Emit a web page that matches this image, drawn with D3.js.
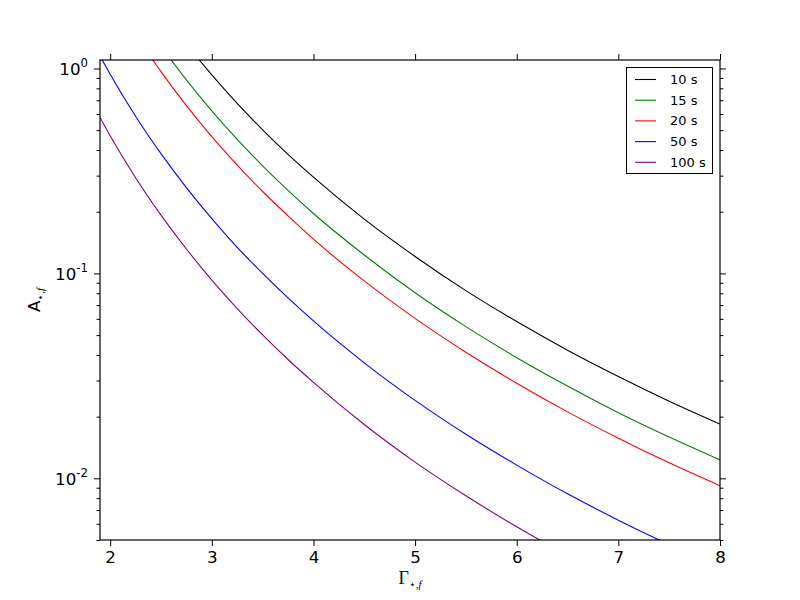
<!DOCTYPE html>
<html>
<head>
<meta charset="utf-8">
<script src="https://cdn.jsdelivr.net/npm/d3@7/dist/d3.min.js"></script>
<style>
  html, body { margin: 0; padding: 0; background: #fff; }
  svg { display: block; }
</style>
</head>
<body>
<svg id="chart" width="800" height="600"></svg>
<script>
// Data
const gamma   = [1.9, 2, 2.25, 2.5, 2.75, 3, 3.25, 3.5, 3.75, 4, 4.5, 5, 5.5, 6, 6.5, 7, 7.5, 8];
const amp10s  = [5.79, 4.71, 2.94, 1.93, 1.318, 0.931, 0.676, 0.502, 0.381, 0.295, 0.184, 0.121, 0.0824, 0.0582, 0.0422, 0.0314, 0.0238, 0.0184];
const amp15s  = [3.86, 3.14, 1.963, 1.288, 0.880, 0.621, 0.451, 0.335, 0.254, 0.196, 0.123, 0.0805, 0.0550, 0.0388, 0.0282, 0.0209, 0.0159, 0.0123];
const amp20s  = [2.89, 2.36, 1.471, 0.965, 0.659, 0.465, 0.338, 0.251, 0.191, 0.147, 0.0919, 0.0603, 0.0412, 0.0291, 0.0211, 0.0157, 0.0119, 0.0092];
const amp50s  = [1.151, 0.938, 0.585, 0.384, 0.262, 0.185, 0.134, 0.100, 0.0759, 0.0586, 0.0366, 0.0240, 0.0164, 0.0116, 0.0084, 0.00625, 0.00474, 0.00366];
const amp100s = [0.577, 0.470, 0.293, 0.1925, 0.1315, 0.0928, 0.0674, 0.0501, 0.0380, 0.0294, 0.0183, 0.0120, 0.00822, 0.00580, 0.00421, 0.00313, 0.00238, 0.00184];
const seriesLabels = ["10 s", "15 s", "20 s", "50 s", "100 s"];
const seriesColors = ["#000000", "#008000", "#ff0000", "#0000ff", "#800080"];
const xTicks = [2, 3, 4, 5, 6, 7, 8];
const yMajorExp = [0, -1, -2];
const xDomain = [1.9, 8];
const yDomain = [0.005, 1.1];

const seriesValues = [amp10s, amp15s, amp20s, amp50s, amp100s];

const svg = d3.select("#chart");
const L = 100, R = 720, T = 60, B = 540;

const x = d3.scaleLinear().domain(xDomain).range([L, R]);
const y = d3.scaleLog().domain(yDomain).range([B, T]);

svg.append("defs").append("clipPath").attr("id", "clip")
  .append("rect").attr("x", L).attr("y", T).attr("width", R - L).attr("height", B - T);

// Lines
const line = d3.line()
  .x(d => x(d[0]))
  .y(d => y(d[1]))
  .curve(d3.curveMonotoneX);

const plot = svg.append("g").attr("clip-path", "url(#clip)");
seriesValues.forEach((vals, i) => {
  plot.append("path")
    .datum(gamma.map((g, j) => [g, vals[j]]))
    .attr("fill", "none")
    .attr("stroke", seriesColors[i])
    .attr("stroke-width", 1.1)
    .attr("d", line);
});

// Axes (ticks outward)
const majorLen = 6, minorLen = 3.5;
const axBottom = d3.axisBottom(x).tickValues(xTicks).tickSize(majorLen).tickPadding(5).tickFormat(d3.format("d"));
const axTop = d3.axisTop(x).tickValues(xTicks).tickSize(majorLen).tickFormat("");

const gB = svg.append("g").attr("transform", `translate(0,${B})`).call(axBottom);
const gT = svg.append("g").attr("transform", `translate(0,${T})`).call(axTop);
[gB, gT].forEach(g => {
  g.select(".domain").remove();
  g.selectAll("line").attr("stroke", "#000").attr("stroke-width", 1);
});
gB.selectAll("text")
  .attr("font-family", "DejaVu Sans, sans-serif")
  .attr("font-size", 16.7)
  .attr("fill", "#000");

// Y ticks
const yMajor = yMajorExp.map(e => Math.pow(10, e));
const yMinor = [];
[-3, -2, -1].forEach(e => {
  for (let k = 2; k <= 9; k++) {
    const v = k * Math.pow(10, e);
    if (v >= yDomain[0] && v <= yDomain[1]) yMinor.push(v);
  }
});

const axLeftMaj = d3.axisLeft(y).tickValues(yMajor).tickSize(majorLen).tickFormat("");
const axLeftMin = d3.axisLeft(y).tickValues(yMinor).tickSize(minorLen).tickFormat("");
const axRightMaj = d3.axisRight(y).tickValues(yMajor).tickSize(majorLen).tickFormat("");
const axRightMin = d3.axisRight(y).tickValues(yMinor).tickSize(minorLen).tickFormat("");

[[axLeftMaj, L], [axLeftMin, L], [axRightMaj, R], [axRightMin, R]].forEach(([ax, px]) => {
  const g = svg.append("g").attr("transform", `translate(${px},0)`).call(ax);
  g.select(".domain").remove();
  g.selectAll("line").attr("stroke", "#000").attr("stroke-width", 1);
});

// Y tick labels 10^k
const yLab = svg.append("g");
yMajorExp.forEach(e => {
  const t = yLab.append("text")
    .attr("x", 88)
    .attr("y", y(Math.pow(10, e)) + 7)
    .attr("text-anchor", "end")
    .attr("font-family", "DejaVu Sans, sans-serif")
    .attr("fill", "#000");
  t.append("tspan").attr("font-size", 16.7).text("10");
  t.append("tspan").attr("font-size", 11.7).attr("dy", -8).text(String(e === 0 ? "0" : "-" + Math.abs(e)));
});

// Frame
svg.append("rect")
  .attr("x", L).attr("y", T).attr("width", R - L).attr("height", B - T)
  .attr("fill", "none").attr("stroke", "#000").attr("stroke-width", 1.2);

// Axis labels
const xl = svg.append("text")
  .attr("x", 410).attr("y", 584)
  .attr("text-anchor", "middle")
  .attr("font-family", "Liberation Serif, DejaVu Serif, serif")
  .attr("fill", "#000");
xl.append("tspan").attr("font-size", 18).text("Γ");
xl.append("tspan").attr("font-size", 11).attr("dy", 4).text("⋆,");
xl.append("tspan").attr("font-size", 11).attr("font-style", "italic").text("f");

const yl = svg.append("text")
  .attr("transform", "translate(40,300) rotate(-90)")
  .attr("text-anchor", "middle")
  .attr("fill", "#000");
yl.append("tspan").attr("font-family", "DejaVu Sans, sans-serif").attr("font-size", 16.7).text("A");
yl.append("tspan").attr("font-family", "Liberation Serif, DejaVu Serif, serif").attr("font-size", 11).attr("dy", 4).text("⋆,");
yl.append("tspan").attr("font-family", "Liberation Serif, DejaVu Serif, serif").attr("font-size", 11).attr("font-style", "italic").text("f");

// Legend
const lg = svg.append("g");
lg.append("rect")
  .attr("x", 626.5).attr("y", 67.5).attr("width", 86).attr("height", 106)
  .attr("fill", "#fff").attr("stroke", "#000").attr("stroke-width", 1);
seriesLabels.forEach((lab, i) => {
  const yy = 79.5 + i * 20.7;
  lg.append("line")
    .attr("x1", 635).attr("x2", 656).attr("y1", yy).attr("y2", yy)
    .attr("stroke", seriesColors[i]).attr("stroke-width", 1.1);
  lg.append("text")
    .attr("x", 670).attr("y", yy + 4.5)
    .attr("font-family", "DejaVu Sans, sans-serif")
    .attr("font-size", 13)
    .attr("fill", "#000")
    .text(lab);
});
</script>
</body>
</html>
